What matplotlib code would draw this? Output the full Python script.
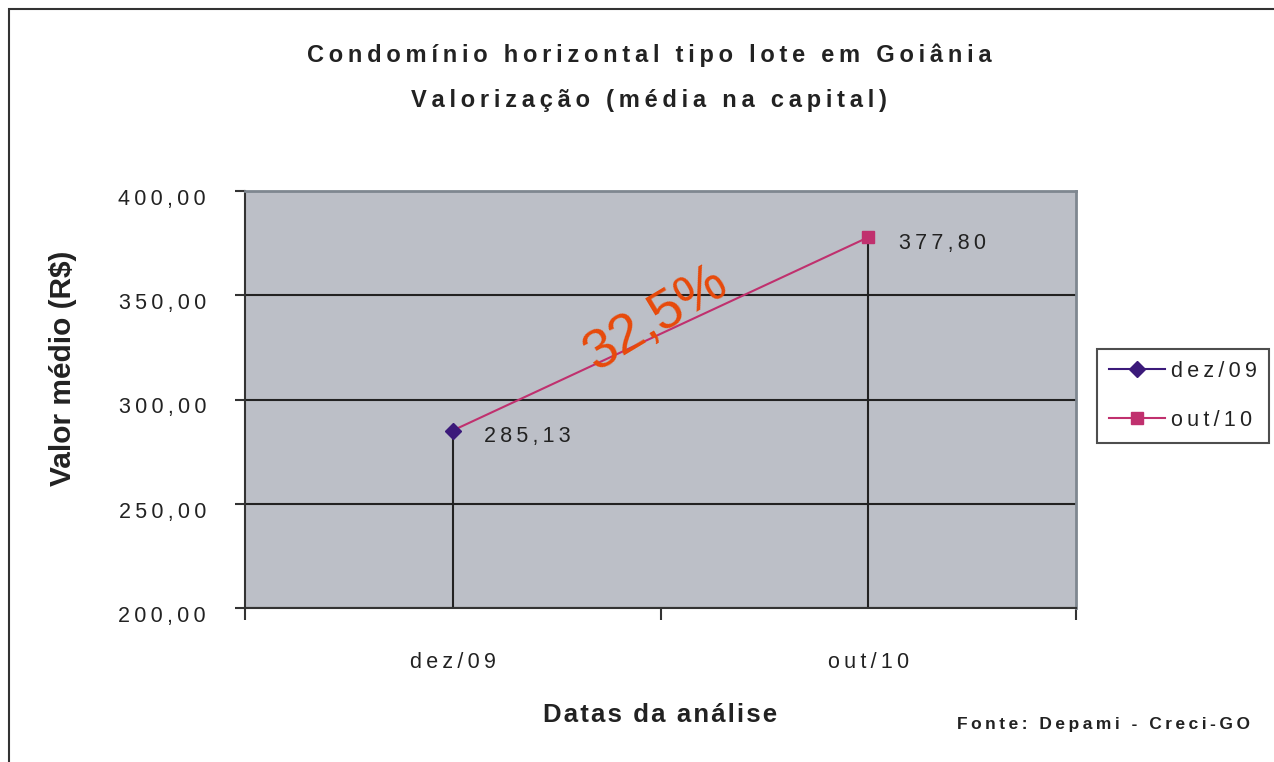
import matplotlib.pyplot as plt
from matplotlib.patches import Rectangle
from matplotlib.transforms import ScaledTranslation

# ---------- Data ----------
datas = ["dez/09", "out/10"]
valores = [285.13, 377.80]
rotulos = ["285,13", "377,80"]
y_ticks = [200, 250, 300, 350, 400]
y_labels = ["200,00", "250,00", "300,00", "350,00", "400,00"]
variacao = "32,5%"

plt.rcParams["font.family"] = ["Liberation Sans", "DejaVu Sans"]

THIN = "\u2009"
HAIR = "\u200a"


def sp(s, gap=THIN):
    # the original export has wide letter spacing
    return gap.join(s)


txt = "#222222"
roxo = "#3B1A7A"
magenta = "#C0306E"

fig = plt.figure(figsize=(12.74, 7.62), dpi=100)
W, H = 1274, 762

# outer chart frame (cut off on the right/bottom)
fig.patches.append(Rectangle((9 / W, -0.05), 1.2, 1 - 9 / H + 0.05,
                             transform=fig.transFigure, fill=False,
                             edgecolor="#333333", linewidth=1.5))

ax = fig.add_axes([245 / W, 1 - 608 / H, (1076 - 245) / W, (608 - 191) / H])
ax.set_facecolor("#BCBFC7")

x = list(range(len(datas)))

# drop lines
ax.vlines(x, 200, valores, color="#222222", linewidth=1.5, zorder=2)

# connecting line + markers
ax.plot(x, valores, color=magenta, linewidth=1.5, zorder=3)
ax.plot([x[0]], [valores[0]], marker="D", markersize=8, color=roxo,
        linestyle="-", zorder=4, label=sp(datas[0]))
ax.plot([x[1]], [valores[1]], marker="s", markersize=9, color=magenta,
        linestyle="-", zorder=4, label=sp(datas[1]))

for xi, v, r in zip(x, valores, rotulos):
    ax.text(xi + 0.075, v - 3, sp(r), fontsize=15.5, color=txt,
            va="center", ha="left")

ax.text(0.49, 339, variacao, fontsize=40, color="#E84A0A", rotation=31,
        ha="center", va="center", zorder=5)

ax.set_xlim(-0.5, 1.5)
ax.set_ylim(200, 400)
ax.set_yticks(y_ticks)
ax.set_yticklabels([sp(s) for s in y_labels], fontsize=15.5, color=txt)
ax.set_xticks([-0.5, 0.5, 1.5])
ax.set_xticklabels([])
ax.set_xticks(x, minor=True)
ax.set_xticklabels([sp(s) for s in datas], minor=True, fontsize=15.5,
                   color=txt)
ax.tick_params(axis="x", which="minor", length=0, pad=32)
ax.tick_params(axis="x", which="major", length=8.5, width=1.5, color="#333333")
ax.tick_params(axis="y", length=7, width=1.5, color="#333333", pad=21)
off = ScaledTranslation(0, -6 / 100, fig.dpi_scale_trans)
for lab in ax.get_yticklabels():
    lab.set_transform(lab.get_transform() + off)

ax.yaxis.grid(True, color="#222222", linewidth=1.5)
ax.set_axisbelow(True)
for s in ["left", "bottom"]:
    ax.spines[s].set_color("#333333")
    ax.spines[s].set_linewidth(1.5)
for s in ["top", "right"]:
    ax.spines[s].set_color("#7F8790")
    ax.spines[s].set_linewidth(2)

fig.text(63 / W, 1 - 368 / H, "Valor médio (R$)", fontsize=21.5,
         fontweight="bold", color=txt, rotation=90, ha="center", va="center")
fig.text(660 / W, 1 - 715 / H, sp("Datas da análise", HAIR), fontsize=18.5,
         fontweight="bold", color=txt, ha="center", va="center")

fig.text(649 / W, 1 - 55 / H,
         sp("Condomínio horizontal tipo lote em Goiânia"),
         fontsize=17, fontweight="bold", color=txt, ha="center", va="center")
fig.text(649 / W, 1 - 101 / H,
         sp("Valorização (média na capital)"),
         fontsize=17, fontweight="bold", color=txt, ha="center", va="center")
fig.text(1250 / W, 1 - 725 / H, sp("Fonte: Depami - Creci-GO"),
         fontsize=12.5, fontweight="bold", color=txt, ha="right", va="center")

leg = ax.legend(loc="upper left", bbox_to_anchor=(1097 / W, 1 - 349 / H),
                bbox_transform=fig.transFigure, borderaxespad=0,
                fontsize=15.5, frameon=True, fancybox=False,
                edgecolor="#222222", handlelength=2.6, borderpad=0.55,
                labelspacing=1.3, handletextpad=0.3)
leg.get_frame().set_linewidth(1.5)
for t in leg.get_texts():
    t.set_color(txt)
leg.legend_handles[0].set_color(roxo)

fig.savefig("out.png", dpi=100)
